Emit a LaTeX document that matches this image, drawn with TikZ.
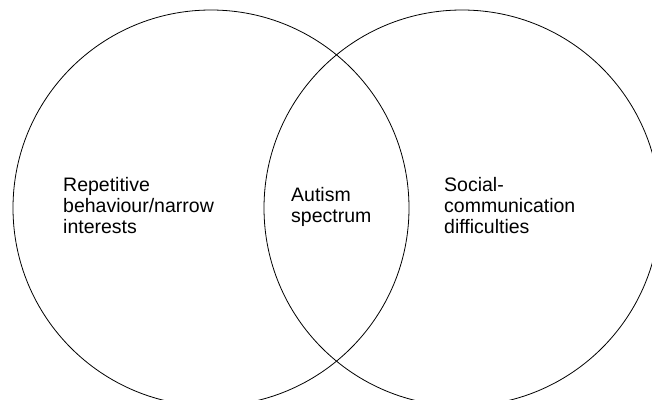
\documentclass[tikz,border=0pt]{standalone}
\usepackage{fontspec}
\setmainfont{Liberation Sans}
\usetikzlibrary{positioning}

\begin{document}
\begin{tikzpicture}[x=1pt, y=-1pt,
  font=\fontsize{19.5}{21}\selectfont,
  setlabel/.style={align=left, inner sep=0pt, anchor=base west}]
  \useasboundingbox (0,0) rectangle (652,399);
  \clip (0,0) rectangle (652,399);

  \coordinate (rrb) at (211,208);
  \coordinate (scd) at (462,208);
  \draw[line width=0.8pt] (rrb) circle[radius=198];
  \draw[line width=0.8pt] (scd) circle[radius=198];

  % base anchor sits on the last line
  \node[setlabel] (rrblabel) at (63,233) {Repetitive\\behaviour/narrow\\interests};
  \node[setlabel] (asdlabel) at (291,222) {Autism\\spectrum};
  \node[setlabel] (scdlabel) at (444,233) {Social-\\communication\\difficulties};
\end{tikzpicture}
\end{document}
